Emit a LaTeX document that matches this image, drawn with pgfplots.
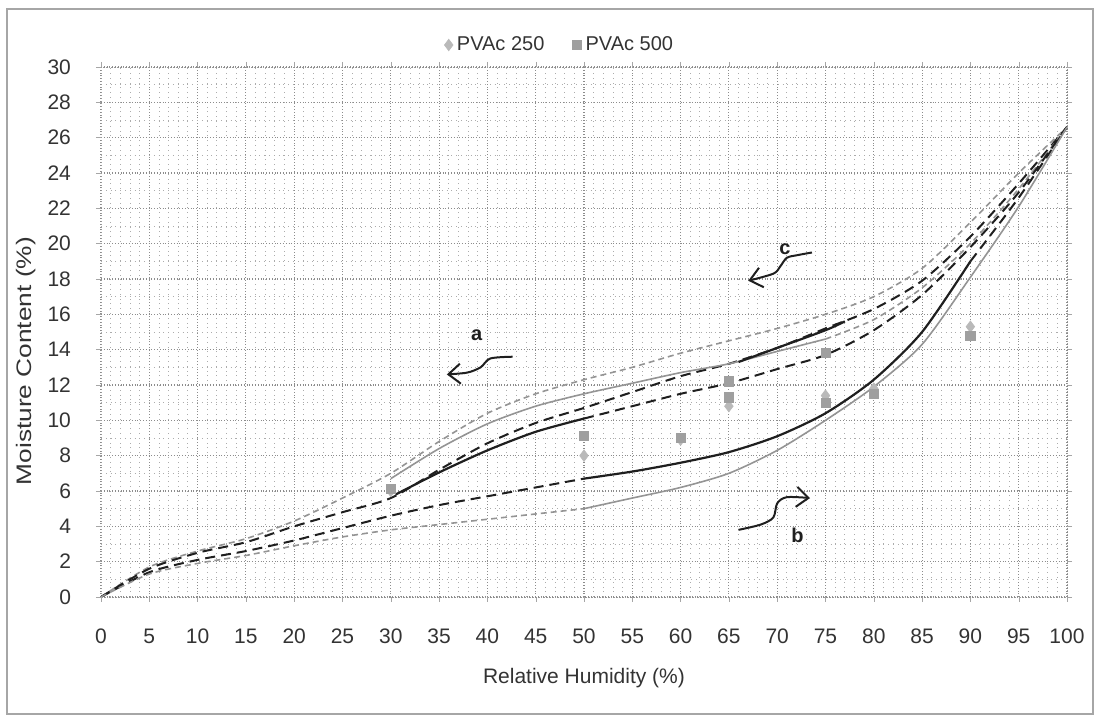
\documentclass[border=0pt]{standalone}
\usepackage{fontspec}
\setmainfont{Liberation Sans}
\usepackage{pgfplots}
\pgfplotsset{compat=1.18}
\usetikzlibrary{arrows.meta}
\definecolor{lgray}{gray}{0.58}
\definecolor{dgray}{gray}{0.12}
\begin{document}
\begin{tikzpicture}
\useasboundingbox (0,0) rectangle (549.5pt,358pt);
\draw[gray!70, line width=0.6pt] (3.5pt,1pt) rectangle (546.5pt,353.5pt);
\begin{axis}[
  at={(50.5pt,59.5pt)}, anchor=south west,
  scale only axis, width=483pt, height=265pt,
  xmin=0, xmax=100, ymin=0, ymax=30,
  xtick={0,5,...,100}, ytick={0,2,...,30},
  minor x tick num=4, minor y tick num=1,
  grid=both,
  major grid style={gray!90, densely dotted, line width=0.55pt},
  minor grid style={gray!65, dotted, line width=0.45pt},
  axis line style={gray!80, densely dotted},
  tick align=outside, major tick length=2.5pt, minor tick length=0pt,
  tick style={gray!70},
  /pgf/number format/assume math mode=true,
  ticklabel style={font=\fontsize{10.5}{12}\selectfont, text=black!80},
  xticklabel style={yshift=-10pt},
  yticklabel style={xshift=-9pt},
  xlabel={Relative Humidity (\%)},
  xlabel style={at={(axis description cs:0.5,0)}, anchor=center, yshift=-40.5pt, font=\fontsize{10.5}{12}\selectfont, text=black!80},
  ylabel={\scalebox{1.25}[1]{Moisture Content (\%)}},
  ylabel style={at={(axis description cs:-0.0776,0.445)}, anchor=center, rotate=0, font=\fontsize{10.5}{12}\selectfont, text=black!80},
  legend style={at={(0.476,1)}, anchor=center, yshift=11pt, draw=none, fill=none,
    legend columns=2, font=\fontsize{10}{12}\selectfont, text=black!80,
    /tikz/every even column/.append style={column sep=12pt}},
  legend image code/.code={\draw[#1] plot coordinates {(0.12cm,0cm)};},
]
% scatter data
\addplot[only marks, mark=diamond*, mark size=2.8pt, color=gray!55] coordinates {
(30,6.0)(50,8.0)(60,8.9)(65,10.8)(75,11.4)(80,11.8)(90,15.3)};
\addlegendentry{PVAc 250}
\addplot[only marks, mark=square*, mark size=2.3pt, color=gray!75] coordinates {
(30,6.1)(50,9.1)(60,9.0)(65,12.2)(65,11.3)(75,13.8)(75,11.0)(80,11.5)(90,14.8)};
\addlegendentry{PVAc 500}
% G1 gray dashed full
\addplot[smooth, tension=0.45, lgray, line width=0.8pt, dash pattern=on 3pt off 2pt, forget plot] coordinates {
(0,0)(5,1.7)(10,2.6)(15,3.3)(20,4.3)(25,5.6)(30,7.0)(35,8.8)(40,10.4)(45,11.5)(50,12.3)(55,13.0)(60,13.8)(65,14.5)(70,15.2)(75,16.0)(80,17.0)(85,18.6)(90,21.2)(95,24.0)(100,26.6)};
% K1 black dashed full
\addplot[smooth, tension=0.45, dgray, line width=1pt, dash pattern=on 5pt off 3pt, forget plot] coordinates {
(0,0)(5,1.6)(10,2.5)(15,3.1)(20,4.0)(25,4.8)(30,5.6)(35,7.2)(40,8.7)(45,9.85)(50,10.7)(55,11.6)(60,12.5)(65,13.2)(70,14.1)(75,15.2)(80,16.3)(85,17.9)(90,20.4)(95,23.4)(100,26.6)};
% G2 gray solid then dashed
\addplot[smooth, tension=0.45, lgray, line width=0.8pt, forget plot] coordinates {
(30,6.7)(35,8.4)(40,9.8)(45,10.8)(50,11.5)(55,12.1)(60,12.7)(65,13.2)(70,13.9)(75,14.6)};
\addplot[smooth, tension=0.45, lgray, line width=0.8pt, dash pattern=on 3pt off 2pt, forget plot] coordinates {
(75,14.6)(80,15.7)(85,17.5)(90,20.0)(95,23.1)(100,26.6)};
% K2 black solid then dashed
\addplot[smooth, tension=0.45, dgray, line width=1.1pt, forget plot] coordinates {
(30.5,5.8)(35,7.05)(40,8.3)(45,9.35)(50,10.1)};
\addplot[smooth, tension=0.45, dgray, line width=1pt, dash pattern=on 5pt off 3pt, forget plot] coordinates {
(50,10.1)(55,10.8)(60,11.5)(65,12.1)(70,12.9)(75,13.7)(80,15.1)(85,17.1)(90,19.8)(95,22.9)(100,26.6)};
% K3 black dashed, solid, dashed
\addplot[smooth, tension=0.45, dgray, line width=1pt, dash pattern=on 5pt off 3pt, forget plot] coordinates {
(0,0)(5,1.4)(10,2.1)(15,2.6)(20,3.2)(25,3.9)(30,4.6)(35,5.2)(40,5.7)(45,6.2)(50,6.7)};
\addplot[smooth, tension=0.45, dgray, line width=1.1pt, forget plot] coordinates {
(50,6.7)(55,7.1)(60,7.6)(65,8.2)(70,9.1)(75,10.4)(80,12.3)(85,15.0)(90,19.0)};
\addplot[smooth, tension=0.45, dgray, line width=1pt, dash pattern=on 5pt off 3pt, forget plot] coordinates {
(90,19.0)(95,22.6)(100,26.6)};
% G3 gray dashed then solid
\addplot[smooth, tension=0.45, lgray, line width=0.8pt, dash pattern=on 3pt off 2pt, forget plot] coordinates {
(0,0)(5,1.3)(10,1.9)(15,2.35)(20,2.9)(25,3.4)(30,3.8)(35,4.1)(40,4.4)(45,4.7)(50,5.0)};
\addplot[smooth, tension=0.45, lgray, line width=0.8pt, forget plot] coordinates {
(50,5.0)(55,5.6)(60,6.2)(65,7.0)(70,8.3)(75,10.0)(80,11.9)(85,14.3)(90,18.1)(95,22.1)(100,26.6)};
% K4 black solid c
\addplot[smooth, dgray, line width=1.1pt, forget plot] coordinates {
(66,13.3)(70,14.1)(75,15.1)(77,15.6)};
% hand-drawn annotations
\draw[dgray, line width=1pt, -{Straight Barb[length=6pt,width=10pt]}] plot[smooth] coordinates {
(axis cs:42.6,13.6)(axis cs:40.3,13.5)(axis cs:39.3,13.0)(axis cs:37.9,12.7)(axis cs:35.8,12.6)};
\node[font=\bfseries\fontsize{10}{12}\selectfont, text=dgray] at (axis cs:38.9,14.8) {a};
\draw[dgray, line width=1pt, -{Straight Barb[length=6pt,width=10pt]}] plot[smooth] coordinates {
(axis cs:73.6,19.5)(axis cs:72.1,19.35)(axis cs:71.0,19.2)(axis cs:70.3,18.7)(axis cs:69.6,18.3)(axis cs:67.0,17.9)};
\node[font=\bfseries\fontsize{10}{12}\selectfont, text=dgray] at (axis cs:70.8,19.7) {c};
\draw[dgray, line width=1pt, -{Straight Barb[length=6pt,width=10pt]}] plot[smooth] coordinates {
(axis cs:66,3.8)(axis cs:68.3,4.1)(axis cs:69.6,4.5)(axis cs:70.0,5.3)(axis cs:71.0,5.65)(axis cs:73.4,5.6)};
\node[font=\bfseries\fontsize{10}{12}\selectfont, text=dgray] at (axis cs:72.1,3.5) {b};
\end{axis}
\end{tikzpicture}
\end{document}
